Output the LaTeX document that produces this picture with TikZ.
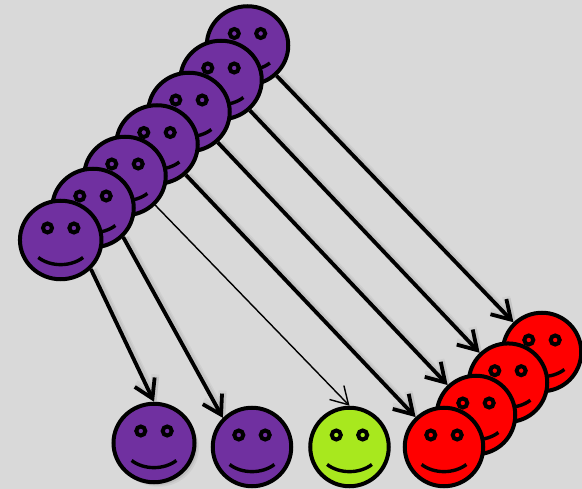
\documentclass[tikz,border=0pt]{standalone}
\usepackage{tikz}
\usetikzlibrary{arrows.meta,calc,shapes.geometric,shadows}
\definecolor{facepurple}{HTML}{7030A0}
\definecolor{facered}{HTML}{FF0000}
\definecolor{facegreen}{HTML}{A8E81E}
\definecolor{backgray}{HTML}{D9D9D9}
\tikzset{
  smiley/.style={draw=black, ellipse, line width=4pt, minimum height=78.5pt, inner sep=0pt},
  shadowface/.style={smiley, drop shadow={shadow xshift=1.5pt, shadow yshift=-1.5pt, opacity=0.25}, drop shadow={shadow xshift=3pt, shadow yshift=-3pt, opacity=0.2}, drop shadow={shadow xshift=4.5pt, shadow yshift=-4.5pt, opacity=0.12}},
  eyedot/.style={draw=black, circle, line width=4pt, minimum size=9pt, inner sep=0pt},
  mouthline/.style={draw=black, line width=3.4pt},
  thickarrow/.style={-{Straight Barb[length=18pt,width=22pt]}, draw=black, line width=3.8pt,
    preaction={draw=black, opacity=0.06, line width=5pt, transform canvas={xshift=2.5pt, yshift=-0.5pt}},
    preaction={draw=black, opacity=0.04, line width=8pt, transform canvas={xshift=2.5pt, yshift=-0.5pt}}},
  thinarrow/.style={-{Straight Barb[length=17pt,width=20pt]}, draw=black, line width=1.4pt}
}
\begin{document}
\begin{tikzpicture}[x=1pt, y=-1pt]
  \useasboundingbox (0,0) rectangle (582,489);
  \fill[backgray] (0,0) rectangle (582,489);

  \foreach \n/\x/\y/\w/\c/\s in {
      p1/247.5/45.5/81.5/facepurple/smiley, p2/221/80/81.5/facepurple/smiley,
      p3/189/112/81.5/facepurple/smiley, p4/157/144.5/81.5/facepurple/smiley,
      p5/125/176/81.5/facepurple/smiley, p6/93/208/81.5/facepurple/smiley,
      p7/60.7/240/81.5/facepurple/smiley,
      b1/154/443/81/facepurple/shadowface, b2/252/447/78.5/facepurple/smiley,
      b3/349.5/447/78.5/facegreen/smiley,
      r1/542/352/78.5/facered/smiley, r2/508/382.7/78.5/facered/smiley,
      r3/476/415/78.5/facered/smiley, r4/444/447/78.5/facered/smiley} {
    \node[\s, fill=\c, minimum width=\w pt] (\n) at (\x,\y) {};
    \node[eyedot, fill=\c] (\n l) at ($(\n)+(-13.2,-12)$) {};
    \node[eyedot, fill=\c] (\n r) at ($(\n)+(13.2,-12)$) {};
    \draw[mouthline] ($(\n)+(-22.4,17.5)$) .. controls ($(\n)+(-10,27)$) and ($(\n)+(10,27)$) .. ($(\n)+(22.4,17.5)$);
  }

  \draw[thickarrow] (p1) -- (r1);
  \draw[thickarrow] (p2) -- (r2);
  \draw[thickarrow] (p3) -- (r3);
  \draw[thickarrow] (p4) -- (r4);
  \draw[thinarrow] (p5.south east) -- (b3.north);
  \draw[thickarrow] (p6.south east) -- (b2.north west);
  \draw[thickarrow] (p7.south east) -- (b1.north);
\end{tikzpicture}
\end{document}
